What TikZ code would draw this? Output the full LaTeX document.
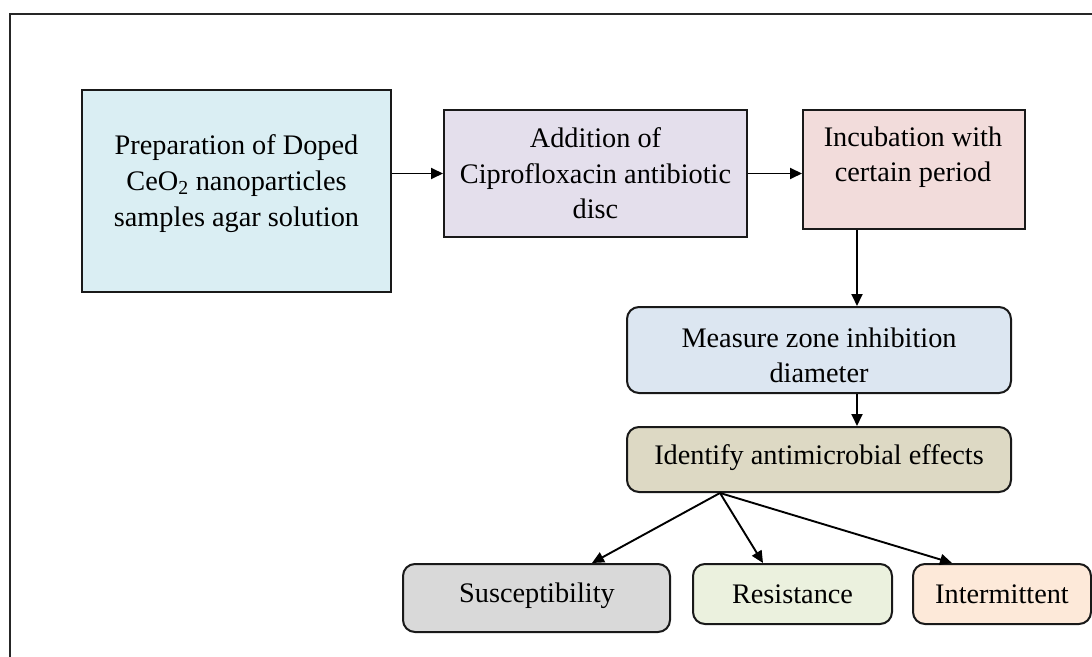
\documentclass[tikz,border=0pt]{standalone}
\usepackage{fontspec}
\setmainfont{Liberation Serif}
\usetikzlibrary{arrows.meta}

\definecolor{prepfill}{HTML}{DAEEF3}
\definecolor{addfill}{HTML}{E4DFEC}
\definecolor{incfill}{HTML}{F2DCDB}
\definecolor{measfill}{HTML}{DCE6F1}
\definecolor{identfill}{HTML}{DDD9C4}
\definecolor{suscfill}{HTML}{D9D9D9}
\definecolor{resfill}{HTML}{EBF1DE}
\definecolor{intfill}{HTML}{FDE9D9}

\tikzset{
  stepbox/.style={draw=black!90, line width=2bp, inner sep=0pt, align=center},
  roundbox/.style={stepbox, rounded corners=12bp},
  lbl/.style={inner sep=0pt, align=center},
  arr/.style={line width=1.9bp, -{Triangle[length=12bp,width=11bp]}},
}

\begin{document}
\begin{tikzpicture}[x=1bp, y=-1bp, font=\fontsize{28.4}{35.6}\selectfont]
\useasboundingbox (0,0) rectangle (1092,657);

% outer frame (left and top edges)
\draw[line width=2bp, black!85] (9.5,657) -- (9.5,14.5) -- (1092,14.5);

% top row
\node[stepbox, fill=prepfill, minimum width=309bp, minimum height=202bp] (prep) at (236.5,191) {};
\node[lbl, font=\fontsize{28.4}{36.4}\selectfont] (preptxt) at (236.5,183.5)
  {Preparation of Doped\\CeO\textsubscript{2} nanoparticles\\samples agar solution};

\node[stepbox, fill=addfill, minimum width=303bp, minimum height=127bp] (add) at (595.5,173.5)
  {Addition of\\Ciprofloxacin antibiotic\\disc};

\node[stepbox, fill=incfill, minimum width=222bp, minimum height=119bp] (inc) at (914,169.5) {};
\node[lbl] (inctxt) at (913,157) {Incubation with\\certain period};

% middle column
\node[roundbox, fill=measfill, minimum width=384bp, minimum height=86bp] (meas) at (819,350) {};
\node[lbl] (meastxt) at (819,355.5) {Measure zone inhibition\\diameter};

\node[roundbox, fill=identfill, minimum width=384bp, minimum height=65bp] (ident) at (819,459.5) {};
\node[lbl] (identtxt) at (819,458) {Identify antimicrobial effects};

% outcomes
\node[roundbox, fill=suscfill, minimum width=267bp, minimum height=68bp] (susc) at (536.5,598) {};
\node[lbl] (susctxt) at (537,596) {Susceptibility};
\node[roundbox, fill=resfill, minimum width=199bp, minimum height=60bp] (res) at (792.5,594) {Resistance};
\node[roundbox, fill=intfill, minimum width=178bp, minimum height=60bp] (int) at (1002,594) {Intermittent};

% connectors
\coordinate (col) at (857,0);
\coordinate (fan) at ([xshift=-99bp]ident.south);
\draw[arr] (prep.east |- add.west) -- (add.west);
\draw[arr] (add.east) -- (add.east -| inc.west);
\draw[arr] (inc.south -| col) -- (meas.north -| col);
\draw[arr] (meas.south -| col) -- (ident.north -| col);
\draw[arr] (fan) -- ([xshift=55.5bp]susc.north);
\draw[arr] (fan) -- ([xshift=-29.5bp]res.north);
\draw[arr] (fan) -- ([xshift=-50bp]int.north);
\end{tikzpicture}
\end{document}
